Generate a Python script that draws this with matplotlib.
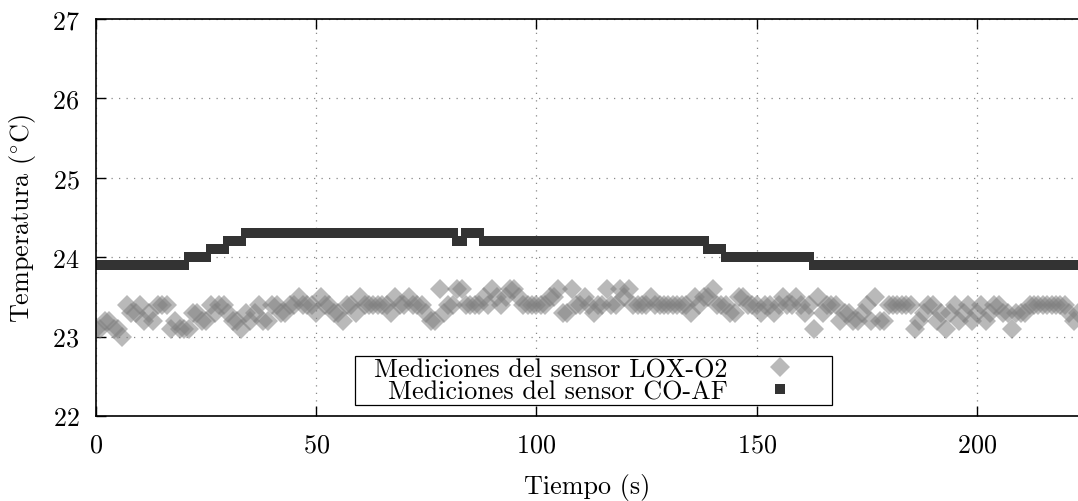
import matplotlib
matplotlib.use("Agg")
import matplotlib.pyplot as plt
from matplotlib.patches import Rectangle

# --- data -------------------------------------------------------------
tiempo = list(range(0, 224))

lox_o2 = [
    23.1, 23.1, 23.2, 23.2, 23.1, 23.1, 23.0, 23.4, 23.3, 23.3,
    23.4, 23.2, 23.3, 23.2, 23.4, 23.4, 23.4, 23.1, 23.2, 23.1,
    23.1, 23.1, 23.3, 23.3, 23.2, 23.2, 23.4, 23.3, 23.4, 23.4,
    23.3, 23.2, 23.2, 23.1, 23.3, 23.2, 23.3, 23.4, 23.2, 23.2,
    23.4, 23.4, 23.3, 23.3, 23.4, 23.4, 23.5, 23.4, 23.4, 23.4,
    23.3, 23.5, 23.4, 23.4, 23.3, 23.3, 23.2, 23.4, 23.4, 23.3,
    23.5, 23.4, 23.4, 23.4, 23.4, 23.4, 23.4, 23.3, 23.5, 23.4,
    23.4, 23.5, 23.4, 23.4, 23.4, 23.3, 23.2, 23.2, 23.6, 23.3,
    23.4, 23.4, 23.6, 23.6, 23.4, 23.4, 23.4, 23.4, 23.5, 23.4,
    23.6, 23.5, 23.4, 23.5, 23.6, 23.6, 23.5, 23.4, 23.4, 23.4,
    23.4, 23.4, 23.4, 23.5, 23.5, 23.6, 23.3, 23.3, 23.6, 23.4,
    23.4, 23.5, 23.4, 23.3, 23.4, 23.4, 23.6, 23.4, 23.4, 23.6,
    23.5, 23.6, 23.4, 23.4, 23.4, 23.4, 23.5, 23.4, 23.4, 23.4,
    23.4, 23.4, 23.4, 23.4, 23.4, 23.3, 23.5, 23.4, 23.5, 23.5,
    23.6, 23.4, 23.4, 23.4, 23.3, 23.3, 23.5, 23.5, 23.4, 23.4,
    23.4, 23.3, 23.4, 23.4, 23.3, 23.4, 23.5, 23.4, 23.4, 23.5,
    23.4, 23.3, 23.4, 23.1, 23.5, 23.3, 23.4, 23.4, 23.4, 23.2,
    23.3, 23.3, 23.2, 23.2, 23.3, 23.4, 23.2, 23.5, 23.2, 23.2,
    23.4, 23.4, 23.4, 23.4, 23.4, 23.4, 23.1, 23.2, 23.3, 23.4,
    23.4, 23.2, 23.3, 23.1, 23.3, 23.4, 23.2, 23.3, 23.4, 23.2,
    23.3, 23.4, 23.2, 23.3, 23.4, 23.4, 23.3, 23.3, 23.1, 23.3,
    23.3, 23.3, 23.4, 23.4, 23.4, 23.4, 23.4, 23.4, 23.4, 23.4,
    23.4, 23.3, 23.2, 23.3,
]

co_af = (
    [23.9] * 21 +   # 0-20
    [24.0] * 5 +    # 21-25
    [24.1] * 4 +    # 26-29
    [24.2] * 4 +    # 30-33
    [24.3] * 48 +   # 34-81
    [24.2] * 2 +    # 82-83
    [24.3] * 4 +    # 84-87
    [24.2] * 51 +   # 88-138
    [24.1] * 4 +    # 139-142
    [24.0] * 20 +   # 143-162
    [23.9] * 61     # 163-223
)

etiquetas = ["Mediciones del sensor LOX-O2", "Mediciones del sensor CO-AF"]
x_ticks = [0, 50, 100, 150, 200]
y_ticks = [22, 23, 24, 25, 26, 27]

# --- style ------------------------------------------------------------
plt.rcParams["font.family"] = "cmr10"
plt.rcParams["mathtext.fontset"] = "cm"
plt.rcParams["axes.formatter.use_mathtext"] = True
FS = 18.8

fig = plt.figure(figsize=(10.78, 5.02), dpi=100)
ax = fig.add_axes([0.0891, 0.1693, 0.9109, 0.7908])

ax.plot(tiempo, lox_o2, linestyle="none", marker="D", markersize=10.5,
        markeredgewidth=0, color="#808080", alpha=0.55, label=etiquetas[0])
ax.plot(tiempo, co_af, linestyle="none", marker="s", markersize=6.6,
        markeredgewidth=0, color="#333333", label=etiquetas[1])

ax.set_xlim(0, 223)
ax.set_ylim(22, 27)
ax.set_xticks(x_ticks)
ax.set_yticks(y_ticks)
ax.tick_params(axis="both", direction="in", length=7, width=1.0,
               labelsize=FS, top=True, right=False)
ax.tick_params(axis="y", pad=12)
ax.tick_params(axis="x", pad=12)

ax.grid(True, linestyle=(0, (1, 5)), color="#888888", linewidth=0.9)
ax.set_axisbelow(True)

for side in ("left", "bottom", "top"):
    ax.spines[side].set_linewidth(1.2)
ax.spines["right"].set_visible(False)

ax.set_xlabel("Tiempo (s)", fontsize=FS, labelpad=12)
ax.set_ylabel(r"Temperatura ($^{\circ}$C)", fontsize=FS, labelpad=10)

# legend box (frame drawn separately, entries right-justified)
ax.add_patch(Rectangle((0.2637, 0.0277), 0.4857, 0.1234,
                       transform=ax.transAxes, facecolor="white",
                       edgecolor="black", linewidth=0.9, zorder=4))
leg = ax.legend(loc="center right", bbox_to_anchor=(0.723, 0.0894),
                borderaxespad=0, borderpad=0, fontsize=FS, markerfirst=False,
                handlelength=2.0, handletextpad=1.0, labelspacing=-0.06,
                frameon=False)
leg.set_zorder(5)
leg.legend_handles[0].set_alpha(0.55)

fig.savefig("out.png", dpi=100)
